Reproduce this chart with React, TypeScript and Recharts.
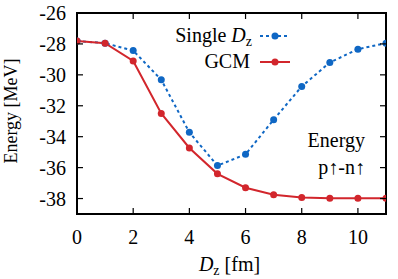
import React from "react";
import { LineChart, Line, XAxis, YAxis, Label, ReferenceArea } from "recharts";

const dz = [0, 1, 2, 3, 4, 5, 6, 7, 8, 9, 10, 11];
const singleDz = [-27.81, -27.95, -28.43, -30.32, -33.72, -35.87, -35.14, -32.9, -30.75, -29.2, -28.34, -27.95];
const gcm = [-27.81, -27.95, -29.1, -32.5, -34.73, -36.4, -37.3, -37.76, -37.94, -37.98, -37.98, -37.98];
const xTicks = [0, 2, 4, 6, 8, 10];
const yTicks = [-38, -36, -34, -32, -30, -28, -26];
const xDomain = [0, 11];
const yDomain = [-39, -26];

const BLUE = "#0f67c4";
const RED = "#d2262c";
const FONT = "'Liberation Serif', 'DejaVu Serif', serif";
const TICK_LEN = 6;
const INK = "#000000";
const FRAME_W = 2;
const TICK_W = 1.2;

const data = dz.map((x, i) => ({ x, single: singleDz[i], gcm: gcm[i] }));

// tick marks drawn as thin filled rectangles
const BottomTick = (p: any) => (
  <g>
    <rect x={p.x - TICK_W / 2} y={p.y - TICK_LEN} width={TICK_W} height={TICK_LEN} fill={INK} />
    <text x={p.x} y={p.y + 29.5} textAnchor="middle" fontFamily={FONT} fontSize={20} fill="#000">
      {p.payload.value}
    </text>
  </g>
);
const TopTick = (p: any) => (
  <rect x={p.x - TICK_W / 2} y={p.y} width={TICK_W} height={TICK_LEN} fill={INK} />
);
const LeftTick = (p: any) => (
  <g>
    <rect x={p.x} y={p.y - TICK_W / 2} width={TICK_LEN} height={TICK_W} fill={INK} />
    <text x={p.x - 11} y={p.y + 7} textAnchor="end" fontFamily={FONT} fontSize={20} fill="#000">
      {p.payload.value}
    </text>
  </g>
);
const RightTick = (p: any) => (
  <rect x={p.x - TICK_LEN} y={p.y - TICK_W / 2} width={TICK_LEN} height={TICK_W} fill={INK} />
);

// plot frame drawn as four filled bars around the area given by the scales
const FrameShape = (p: any) => {
  const { x, y, width, height } = p;
  const h = FRAME_W / 2;
  return (
    <g>
      <rect x={x - h} y={y - h} width={width + FRAME_W} height={FRAME_W} fill={INK} />
      <rect x={x - h} y={y + height - h} width={width + FRAME_W} height={FRAME_W} fill={INK} />
      <rect x={x - h} y={y - h} width={FRAME_W} height={height + FRAME_W} fill={INK} />
      <rect x={x + width - h} y={y - h} width={FRAME_W} height={height + FRAME_W} fill={INK} />
    </g>
  );
};

const XTitle = (props: any) => {
  const vb = props.viewBox || {};
  const cx = vb.x + vb.width / 2;
  const by = vb.y + 56.5;
  return (
    <text x={cx - 2} y={by} textAnchor="middle" fontFamily={FONT} fontSize={20} fill="#000">
      <tspan fontStyle="italic">D</tspan>
      <tspan fontSize={14} dy={4}>z</tspan>
      <tspan dy={-4}> [fm]</tspan>
    </text>
  );
};

const YTitle = () => (
  <text
    x={17}
    y={111}
    transform="rotate(-90 17 111)"
    textAnchor="middle"
    fontFamily={FONT}
    fontSize={18}
    fill="#000"
  >
    Energy [MeV]
  </text>
);

const legendItems = [
  { key: "single", label: "Single", italic: "D", sub: "z", color: BLUE, dash: "3 3" },
  { key: "gcm", label: "GCM", italic: "", sub: "", color: RED, dash: "" },
];

const LegendBlock = () => (
  <g>
    {legendItems.map((it, i) => {
      const cy = 36 + i * 26;
      return (
        <g key={it.key}>
          <text x={it.sub ? 252 : 250} y={cy + 6} textAnchor="end" fontFamily={FONT} fontSize={20} fill="#000">
            {it.italic ? (
              <>
                <tspan>{it.label + " "}</tspan>
                <tspan fontStyle="italic">{it.italic}</tspan>
                <tspan fontSize={14} dy={4}>{it.sub}</tspan>
              </>
            ) : (
              it.label
            )}
          </text>
          <line x1={260} x2={290} y1={cy} y2={cy} stroke={it.color} strokeWidth={2} strokeDasharray={it.dash || undefined} />
          <circle cx={275} cy={cy} r={3.5} fill={it.color} />
        </g>
      );
    })}
  </g>
);

const Annotation = () => (
  <g fontFamily={FONT} fontSize={20} fill="#000">
    <text x={365} y={147} textAnchor="end">Energy</text>
    <text x={365} y={174} textAnchor="end">p↑-n↑</text>
  </g>
);

export default function App() {
  return (
    <div
      style={{
        position: "absolute",
        left: 0,
        top: 0,
        width: 398,
        height: 279,
        fontFamily: FONT,
      }}
    >
      <LineChart
        width={398}
        height={279}
        data={data}
        margin={{ top: 12, right: 11, bottom: 0, left: 0 }}
      >
        <XAxis
          dataKey="x"
          type="number"
          domain={xDomain}
          ticks={xTicks}
          height={65}
          tickSize={0}
          tickMargin={0}
          tick={<BottomTick />}
          tickLine={false}
          axisLine={false}
          allowDataOverflow
        >
          <Label content={<XTitle />} />
        </XAxis>
        <XAxis
          xAxisId="top"
          orientation="top"
          dataKey="x"
          type="number"
          domain={xDomain}
          ticks={xTicks}
          height={1}
          tickSize={0}
          tickMargin={0}
          tick={<TopTick />}
          tickLine={false}
          axisLine={false}
          allowDataOverflow
        >
          <Label content={<LegendBlock />} />
        </XAxis>
        <YAxis
          type="number"
          domain={yDomain}
          ticks={yTicks}
          width={77}
          tickSize={0}
          tickMargin={0}
          tick={<LeftTick />}
          tickLine={false}
          axisLine={false}
          allowDataOverflow
        >
          <Label content={<YTitle />} />
        </YAxis>
        <YAxis
          yAxisId="right"
          orientation="right"
          type="number"
          domain={yDomain}
          ticks={yTicks}
          width={1}
          tickSize={0}
          tickMargin={0}
          tick={<RightTick />}
          tickLine={false}
          axisLine={false}
          allowDataOverflow
        >
          <Label content={<Annotation />} />
        </YAxis>
        <ReferenceArea
          x1={xDomain[0]}
          x2={xDomain[1]}
          y1={yDomain[0]}
          y2={yDomain[1]}
          shape={<FrameShape />}
          ifOverflow="visible"
        />
        <Line
          dataKey="single"
          name="Single Dz"
          stroke={BLUE}
          strokeWidth={2}
          strokeDasharray="3 3"
          dot={{ r: 3.5, fill: BLUE, stroke: BLUE, strokeWidth: 0, strokeDasharray: "" }}
          isAnimationActive={false}
        />
        <Line
          dataKey="gcm"
          name="GCM"
          stroke={RED}
          strokeWidth={2}
          dot={{ r: 3.5, fill: RED, stroke: RED, strokeWidth: 0 }}
          isAnimationActive={false}
        />
      </LineChart>
    </div>
  );
}
